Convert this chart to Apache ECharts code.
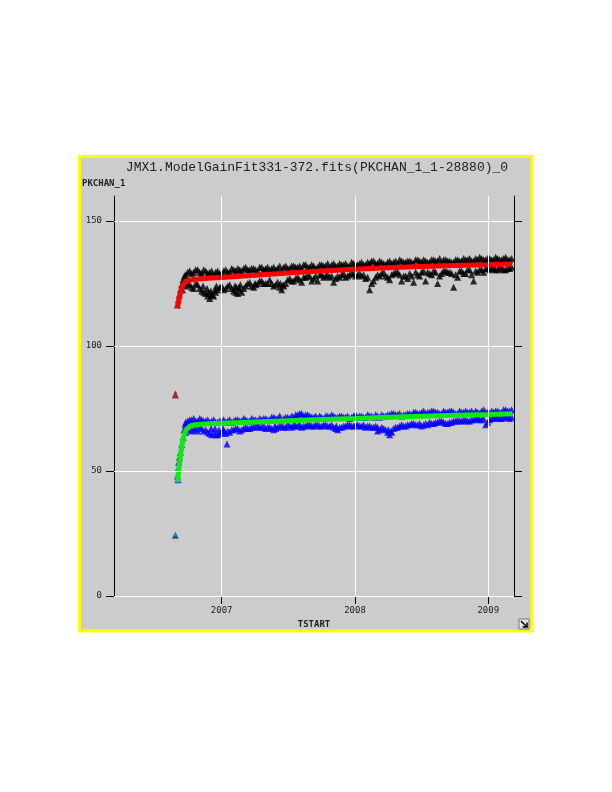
<!DOCTYPE html>
<html><head><meta charset="utf-8">
<script src="https://cdn.jsdelivr.net/npm/echarts@6/dist/echarts.min.js"></script>
<style>html,body{margin:0;padding:0;background:#fff}#c{width:612px;height:792px}</style>
</head><body><div id="c"></div>
<script>
const titleText = 'JMX1.ModelGainFit331-372.fits(PKCHAN_1_1-28880)_0';
const yName = 'PKCHAN_1';
const xName = 'TSTART';
const xTickValues = [2007, 2008, 2009];
const yTickValues = [0, 50, 100, 150];

const gridT = [2006.73,2006.76,2006.79,2006.82,2006.85,2006.88,2006.91,2006.94,2006.97,2007.00,
2007.03,2007.06,2007.09,2007.12,2007.15,2007.18,2007.21,2007.24,2007.27,2007.30,
2007.33,2007.36,2007.39,2007.42,2007.45,2007.48,2007.51,2007.54,2007.57,2007.60,
2007.63,2007.66,2007.69,2007.72,2007.75,2007.78,2007.81,2007.84,2007.87,2007.90,
2007.93,2007.96,2007.99,2008.02,2008.05,2008.08,2008.11,2008.14,2008.17,2008.20,
2008.23,2008.26,2008.29,2008.32,2008.35,2008.38,2008.41,2008.44,2008.47,2008.50,
2008.53,2008.56,2008.59,2008.62,2008.65,2008.68,2008.71,2008.74,2008.77,2008.80,
2008.83,2008.86,2008.89,2008.92,2008.95,2008.98,2009.01,2009.04,2009.07,2009.10,
2009.13,2009.16];

const gridT2 = [2006.745,2006.775,2006.805,2006.835,2006.865,2006.895,2006.925,2006.955,2006.985,2007.015,
2007.045,2007.075,2007.105,2007.135,2007.165,2007.195,2007.225,2007.255,2007.285,2007.315,
2007.345,2007.375,2007.405,2007.435,2007.465,2007.495,2007.525,2007.555,2007.585,2007.615,
2007.645,2007.675,2007.705,2007.735,2007.765,2007.795,2007.825,2007.855,2007.885,2007.915,
2007.945,2007.975,2008.005,2008.035,2008.065,2008.095,2008.125,2008.155,2008.185,2008.215,
2008.245,2008.275,2008.305,2008.335,2008.365,2008.395,2008.425,2008.455,2008.485,2008.515,
2008.545,2008.575,2008.605,2008.635,2008.665,2008.695,2008.725,2008.755,2008.785,2008.815,
2008.845,2008.875,2008.905,2008.935,2008.965,2008.995,2009.025,2009.055,2009.085,2009.115,
2009.145,2009.175];

const blackHi = [128.5,130,129.5,130.5,129,130,129.5,128.5,130,129,
130.5,129.5,130.5,131,130,131.5,130.5,131,130,131.5,
131,130.5,131.5,131,130.5,132,131,132,131.5,131,
132.5,131.5,132,131.5,132.5,132,131.5,133,132,132.5,
133,132,133,132.5,133.5,132.5,133,134,133,133.5,
132.5,134,133.5,133,134,133.5,134,133,134.5,133.5,
134,133.5,134.5,134,133.5,134.5,134,133.5,134.5,134,
134.5,135,134,134.5,135,134.5,135,134.5,135,134.5,
135.5,134.5];

const blackLo = [124,124.5,123,124.5,122,121,119,120,122.5,124,
123,124.5,122,121,121.5,124,125.5,123.5,125,126,
125,126.5,124,125.5,122.5,125,127,126,127.5,125.5,
127.5,128,127,126,128.5,128,127.5,125.5,128,128.5,
127.5,128.5,129,128.5,128,127,122.5,126,128.5,129,
128,126.5,129,129.5,126,128,129,125.5,128.5,129.5,
126,129,130,125,129,130,129.5,123.5,127.5,130,
129,130.5,126,129.5,130.5,131,130.5,131,130.5,131,
130.5,131];

const blackHi2 = [129.5,129,130.5,129.5,130.5,129,130,129.5,129,130,
129.5,131,130,130.5,131,130.5,131,130.5,131.5,130.5,
131.5,131,130.5,132,131.5,131,132,131.5,132,132.5,
131.5,132.5,131,132.5,132,133,132.5,132,133,132.5,
132,133.5,132.5,133,132.5,133.5,134,133,134,133,
133.5,133,134,134.5,133.5,134,133.5,134.5,134,134.5,
133.5,134.5,134,135,134.5,134,133.5,134.5,134,135,
134.5,134,135,135.5,134.5,135,134.5,135.5,134.5,135,
134.5,135];

const blackLo2 = [125,123.5,125,123,121.5,120,120.5,121.5,123.5,122.5,
124,123,121.5,122.5,123,125,124,124.5,126,125,
125,125,124.5,123.5,124,126.5,126,127,126.5,127.5,
128,126,128,128.5,127.5,128.5,128,127,127.5,129,
128,129,128,129,128.5,127.5,125,127.5,128,129.5,
127.5,128.5,129.5,128.5,128,127,128,129.5,128,130,
129.5,128.5,129.5,128,130,129.5,129,128.5,130,129,
130.5,128.5,130,130.5,129.5,131,131,130.5,131.5,130.5,
131,131.5];

const blackExtraT = [2006.668,2006.675,2006.682,2006.69,2006.70,2006.71,2006.72,2006.705,
2006.86,2006.89,2006.90,2006.92,2006.93,2006.95,2006.96,2007.10,2007.11,2007.13,2007.14,2007.44,2007.46,2007.25];
const blackExtraV = [116.5,118.5,120.5,122.5,124.5,126.5,128,122.5,
124,123,121.5,122,120.5,122.5,124,124,123.5,123.5,124.5,125,124.5,125];

const blueHi = [69.5,70.5,71,70,70.5,70,69.5,70.5,69.5,70,
69.5,70.5,70,70.5,70,70.5,70,70.5,70,70.5,
71,70.5,71.5,71,70.5,71.5,71,71.5,72.5,73,
72.5,72,71.5,71,71.5,72,71.5,72,71.5,72,
71.5,71,72,71.5,72,71.5,72,71.5,72,72.5,
72,72.5,73,72.5,72,72.5,73,73.5,73,73.5,
73,73.5,74,73.5,73,73.5,74,73.5,73,73.5,
74,73.5,73,73.5,74,73.5,73,73.5,74,73.5,
74.5,74];

const blueLo = [65.5,67,66.5,66,67,66.5,65,65.5,64.5,65.5,
65,65.5,66.5,67,66.5,67.5,67,67.5,68,67.5,
67,67.5,66.5,67.5,68,67.5,68,68.5,68,67.5,
68,68.5,68,68.5,68,68.5,68,67.5,66.5,67.5,
68,68.5,68,68.5,68,67.5,68,67.5,66,67.5,
66.5,64.5,67,67.5,68.5,68,68.5,69,68.5,68,
69,69.5,69,69.5,70,69,69.5,70,70.5,70,
70.5,70,70.5,71,70.5,68.5,70.5,71,71.5,71,
71.5,71];

const blueHi2 = [70,70.5,70,71,70,70.5,70,69.5,70,70.5,
70,69.5,70.5,70,71,70,71,70.5,71,71,
70.5,71.5,71,72,71,71.5,72,72.5,73,72,
72.5,71.5,72,72,71,72,72.5,71.5,72,71.5,
72,71.5,72.5,72,71.5,72.5,72,72.5,71.5,72,
72.5,73,72.5,73,72.5,73,72.5,73.5,73,74,
73.5,74,73.5,73,74,73.5,74,73,74,73.5,
73.5,74,74,73,74.5,73.5,74,74,73.5,74.5,
74,74.5];

const blueLo2 = [66.5,66,67,67.5,66,65.5,64.5,64.5,65,66,
66,66.5,67,66,67,67,67.5,68,67.5,68,
67.5,67,67,68,67.5,68.5,67.5,68,68.5,68,
68.5,68,68.5,68,68.5,68,68.5,67,67.5,68,
68.5,68,68.5,68,68.5,68,67.5,68,66.5,67,
65.5,65.5,67.5,68,68,68.5,69,68.5,69,68.5,
68.5,69,69.5,70,69.5,69,69.5,70,70,70.5,
70,70.5,71,70.5,71,69.5,71,71.5,71,71.5,
72,71.5];

const blueExtraT = [2006.668,2006.672,2006.677,2006.683,2006.69,2006.70,2006.71,2006.718,2006.725,2006.672,
2007.04,2006.92,2006.95,2006.98,2007.01,2008.25,2008.27,2007.40,2007.86,2008.17];
const blueExtraV = [48,51,53.5,55.5,57.5,60.5,63.5,66.5,68.5,46.5,
60.8,67,67,66.5,67,66.5,66,68,68,67.5];

const fitRedT = [2006.667,2006.675,2006.685,2006.695,2006.705,2006.715,2006.73,2006.75,2006.8,2006.9,
2007.0,2007.25,2007.5,2007.75,2008.0,2008.25,2008.5,2008.75,2009.0,2009.18];
const fitRedV = [115,117.5,120,122.2,123.8,124.9,125.7,126.2,126.7,127.1,
127.4,128.3,129.2,130.0,130.7,131.3,131.8,132.2,132.5,132.8];

const fitGreenT = [2006.668,2006.675,2006.682,2006.69,2006.70,2006.71,2006.72,2006.735,2006.76,2006.8,
2006.9,2007.0,2007.25,2007.5,2007.75,2008.0,2008.25,2008.5,2008.75,2009.0,2009.18];
const fitGreenV = [45.5,49,52.5,56,59.5,62.5,64.8,66.6,67.8,68.5,
68.9,69.1,69.6,70.1,70.6,71.0,71.5,71.9,72.3,72.6,72.9];

const outUpperT = [2006.652];
const outUpperV = [80.6];
const outLowerT = [2006.652];
const outLowerV = [24.3];

const pairs = (T, V) => T.map((t, i) => [t, V[i]]);

const chart = echarts.init(document.getElementById('c'), null, {renderer: 'canvas'});
const xMin = 2006.192, xMax = 2009.193;
const tickFont = {fontSize: 9, fontFamily: 'DejaVu Sans Mono', color: '#222'};

chart.setOption({
  animation: false,
  backgroundColor: '#ffffff',
  grid: {left: 114, top: 196, width: 400, height: 400, show: false},
  xAxis: [
    {type: 'value', min: xMin, max: xMax, position: 'bottom',
     axisLine: {show: false},
     axisTick: {show: true, customValues: xTickValues, length: 8, lineStyle: {color: '#000'}},
     axisLabel: Object.assign({customValues: xTickValues, margin: 10, formatter: v => String(Math.round(v))}, tickFont),
     splitLine: {show: false},
     name: xName, nameLocation: 'middle', nameGap: 23,
     nameTextStyle: {fontSize: 9, fontWeight: 'bold', fontFamily: 'DejaVu Sans Mono', color: '#222'}},
    {type: 'value', min: xMin, max: xMax, position: 'top',
     axisLine: {show: true, lineStyle: {color: '#000', width: 1}},
     axisTick: {show: true, customValues: xTickValues, length: 8, lineStyle: {color: '#000'}},
     axisLabel: {show: false}, splitLine: {show: false}}
  ],
  yAxis: [
    {type: 'value', min: 0, max: 160, position: 'left',
     axisLine: {show: true, lineStyle: {color: '#000', width: 1}},
     axisTick: {show: true, customValues: yTickValues, length: 8, lineStyle: {color: '#000'}},
     axisLabel: Object.assign({customValues: yTickValues, margin: 12}, tickFont),
     splitLine: {show: false}},
    {type: 'value', min: 0, max: 160, position: 'right',
     axisLine: {show: true, lineStyle: {color: '#000', width: 1}},
     axisTick: {show: true, customValues: yTickValues, length: 8, lineStyle: {color: '#000'}},
     axisLabel: {show: false}, splitLine: {show: false}}
  ],
  graphic: [
    {type: 'rect', z: -10, shape: {x: 79.5, y: 156.5, width: 452.5, height: 474.5},
     style: {fill: '#cccccc', stroke: '#ffff00', lineWidth: 3}},
    {type: 'text', x: 317, y: 168, style: {text: titleText, font: '13px "Liberation Mono"', fill: '#222', align: 'center', verticalAlign: 'middle'}},
    {type: 'text', x: 82, y: 184, style: {text: yName, font: 'bold 9px "DejaVu Sans Mono"', fill: '#222', align: 'left', verticalAlign: 'middle'}},
    {type: 'group', x: 519, y: 619, children: [
      {type: 'rect', shape: {x: 0, y: 0, width: 10, height: 10}, style: {fill: '#e4e4e4', stroke: '#777', lineWidth: 1}},
      {type: 'line', shape: {x1: 2, y1: 2, x2: 8, y2: 8}, style: {stroke: '#000', lineWidth: 1.5}},
      {type: 'polyline', shape: {points: [[8, 3.5], [8, 8], [3.5, 8]]}, style: {stroke: '#000', lineWidth: 1.5, fill: null}}
    ]}
  ],
  series: [
    {type: 'line', data: [], z: 1, silent: true,
     markLine: {silent: true, symbol: ['none', 'none'], label: {show: false},
       lineStyle: {color: '#ffffff', width: 1, type: 'solid'},
       emphasis: {disabled: true},
       data: xTickValues.map(v => ({xAxis: v})).concat(yTickValues.map(v => ({yAxis: v})))}},
    {name: 'upper', type: 'scatter', z: 3, silent: true, symbol: 'triangle', symbolSize: [7, 7],
     itemStyle: {color: '#000000'},
     data: pairs(gridT, blackHi).concat(pairs(gridT, blackLo), pairs(gridT2, blackHi2), pairs(gridT2, blackLo2), pairs(blackExtraT, blackExtraV))},
    {name: 'lower', type: 'scatter', z: 3, silent: true, symbol: 'triangle', symbolSize: [7, 7],
     itemStyle: {color: '#0000ff'},
     data: pairs(gridT, blueHi).concat(pairs(gridT, blueLo), pairs(gridT2, blueHi2), pairs(gridT2, blueLo2), pairs(blueExtraT, blueExtraV))},
    {name: 'fitUpper', type: 'line', z: 4, silent: true, showSymbol: false, symbol: 'none',
     lineStyle: {color: '#ff0000', width: 5}, data: pairs(fitRedT, fitRedV)},
    {name: 'fitLower', type: 'line', z: 4, silent: true, showSymbol: false, symbol: 'none',
     lineStyle: {color: '#10e810', width: 5}, data: pairs(fitGreenT, fitGreenV)},
    {name: 'outUpper', type: 'scatter', z: 5, silent: true, symbol: 'triangle', symbolSize: [7, 8],
     itemStyle: {color: '#7a1010'}, data: pairs(outUpperT, outUpperV)},
    {name: 'outUpperFit', type: 'scatter', z: 6, silent: true, symbol: 'triangle', symbolSize: [4, 4],
     itemStyle: {color: '#e01010'}, data: pairs(outUpperT, outUpperV.map(v => v + 0.8))},
    {name: 'outLower', type: 'scatter', z: 5, silent: true, symbol: 'triangle', symbolSize: [7, 7],
     itemStyle: {color: '#0030a0'}, data: pairs(outLowerT, outLowerV)},
    {name: 'outLowerFit', type: 'scatter', z: 6, silent: true, symbol: 'triangle', symbolSize: [4, 4],
     itemStyle: {color: '#10c050'}, data: pairs(outLowerT, outLowerV.map(v => v + 0.6))}
  ]
});
</script>
</body></html>
